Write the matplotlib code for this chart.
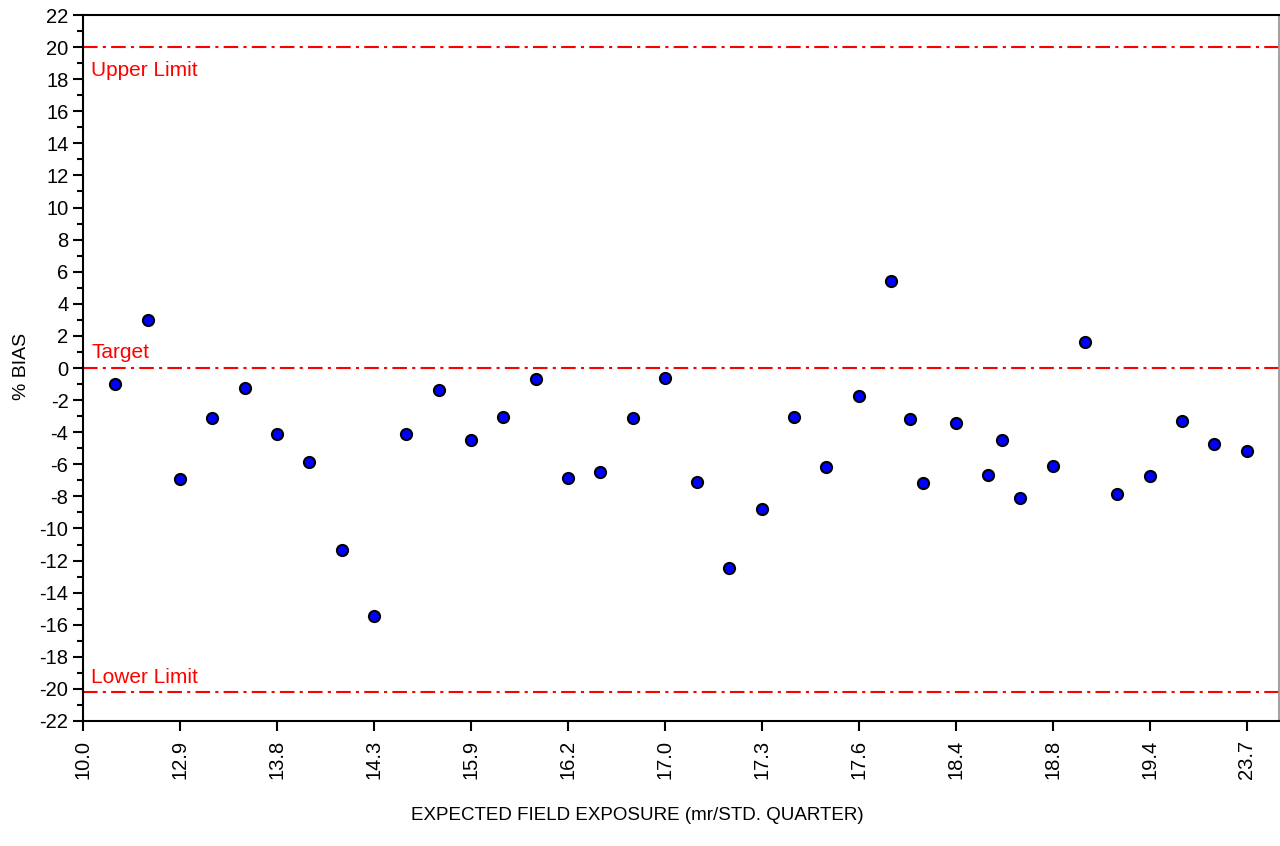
import matplotlib
matplotlib.use('Agg')
import matplotlib.pyplot as plt
from matplotlib.ticker import MultipleLocator

plt.rcParams['font.family'] = ['Liberation Sans', 'DejaVu Sans']
plt.rcParams['axes.unicode_minus'] = False

# sample slot along the exposure axis and measured % bias
positions = [1, 2, 3, 4, 5, 6, 7, 8, 9, 10, 11, 12, 13, 14, 15, 16, 17, 18,
             19, 20, 21, 22, 23, 24, 25, 25.58, 26, 27, 28, 28.43, 29, 30, 31,
             32, 33, 34, 35, 36]
bias = [-0.97, 3.0, -6.93, -3.1, -1.25, -4.13, -5.86, -11.34, -15.43, -4.13,
        -1.37, -4.5, -3.03, -0.7, -6.83, -6.46, -3.13, -0.6, -7.12, -12.46,
        -8.76, -3.03, -6.17, -1.76, 5.45, -3.15, -7.14, -3.43, -6.67, -4.5,
        -8.1, -6.08, 1.64, -7.83, -6.73, -3.32, -4.75, -5.15]

tick_pos = [0, 3, 6, 9, 12, 15, 18, 21, 24, 27, 30, 33, 36]
tick_labels = ['10.0', '12.9', '13.8', '14.3', '15.9', '16.2', '17.0',
               '17.3', '17.6', '18.4', '18.8', '19.4', '23.7']

upper_limit = 20
target = 0
lower_limit = -20.2

fig = plt.figure(figsize=(12.8, 8.46), dpi=100)
ax = fig.add_axes([83 / 1280, 1 - 721 / 846, 1196 / 1280, 706 / 846])

dash = (0, (7, 2.5, 1.5, 2.5))
for yv in (upper_limit, target, lower_limit):
    ax.axhline(yv, color='red', lw=1.5, linestyle=dash, zorder=1)

ax.text(0.25, 18.17, 'Upper Limit', color='red', fontsize=15, va='baseline')
ax.text(0.25, 0.6, 'Target', color='red', fontsize=15, va='baseline')
ax.text(0.25, -19.65, 'Lower Limit', color='red', fontsize=15, va='baseline')

ax.plot(positions, bias, linestyle='none', marker='o', markersize=8,
        markerfacecolor='#0000ff', markeredgecolor='black',
        markeredgewidth=1.5, zorder=3)

ax.set_xlim(0, 37)
ax.set_ylim(-22, 22)
ax.set_xticks(tick_pos)
ax.set_xticklabels(tick_labels, rotation=90)
ax.yaxis.set_major_locator(MultipleLocator(2))
ax.yaxis.set_minor_locator(MultipleLocator(1))

ax.tick_params(axis='both', which='major', direction='out', length=7.5,
               width=1.5, labelsize=14.5, color='black')
ax.tick_params(axis='y', which='minor', direction='out', length=4.5,
               width=1.5)
ax.tick_params(axis='x', pad=6)
ax.tick_params(axis='y', pad=3)

for side in ('left', 'bottom', 'top'):
    ax.spines[side].set_linewidth(1.5)
ax.spines['right'].set_linewidth(1.2)
ax.spines['right'].set_color('#909090')

fig.text(22 / 1280, 1 - 366 / 846, '% BIAS', rotation=90, fontsize=14,
         ha='center', va='center')
fig.text(637 / 1280, 1 - 815 / 846, 'EXPECTED FIELD EXPOSURE (mr/STD. QUARTER)',
         fontsize=13.5, ha='center', va='center')

fig.savefig('out.png', dpi=100)
